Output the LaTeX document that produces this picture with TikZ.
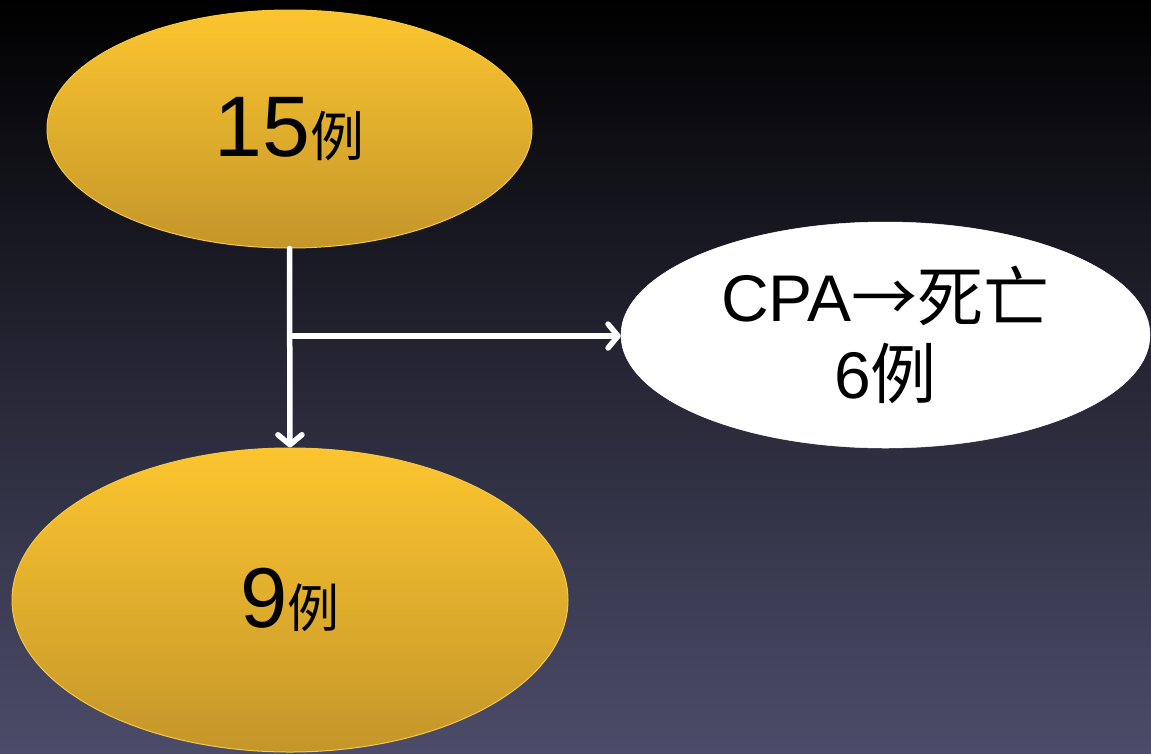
\documentclass[tikz,border=0pt]{standalone}
\usepackage{fontspec}
\setmainfont{Liberation Sans}
\newfontfamily\cjk{Noto Sans CJK SC}
\usetikzlibrary{shapes.geometric,arrows.meta}
\definecolor{bgbot}{HTML}{4C4C6A}
\definecolor{yeltop}{HTML}{FCC52F}
\definecolor{yelbot}{HTML}{C4962A}
\definecolor{yeledge}{HTML}{F6C843}
\tikzset{
  yel/.style={ellipse, inner sep=0pt, top color=yeltop, bottom color=yelbot, draw=yeledge, line width=1pt},
  wht/.style={ellipse, inner sep=0pt, fill=white, draw=white, line width=0.5pt, align=center},
  conn/.style={draw=white, line width=5.5pt, line cap=round,
    -{Straight Barb[length=10pt,width=24pt,line cap=round,line join=round]}}
}
\begin{document}
\begin{tikzpicture}[x=1pt,y=-1pt]
\useasboundingbox (0,0) rectangle (1151,753);
\shade[top color=black, bottom color=bgbot] (0,0) rectangle (1151,753);
\node[yel, minimum width=485pt, minimum height=238pt] (a) at (289.5,129)
  {\fontsize{86}{86}\selectfont 15{\cjk\fontsize{54}{54}\selectfont 例}};
\node[wht, minimum width=529pt, minimum height=226pt, font=\fontsize{66}{77}\selectfont] (b) at (885.5,335)
  {CPA{\cjk →死亡}\\6{\cjk 例}};
\node[yel, minimum width=556pt, minimum height=304pt] (c) at (290,600)
  {\fontsize{85}{85}\selectfont 9{\cjk\fontsize{52}{52}\selectfont 例}};
\coordinate (br) at (290,336);
\draw[conn] (a.south) -- (c.north);
\draw[conn] (br) -- (br -| b.west);
\end{tikzpicture}
\end{document}
